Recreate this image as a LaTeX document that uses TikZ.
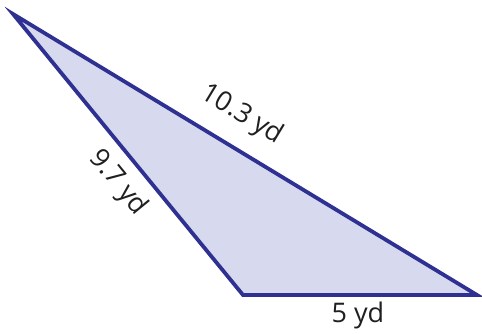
\documentclass[tikz,border=0pt]{standalone}
\usepackage{fontspec}
\setmainfont{Open Sans}
\definecolor{edgeblue}{HTML}{2E3192}
\definecolor{fillblue}{HTML}{D7DAEE}
\begin{document}
\begin{tikzpicture}[x=1pt,y=-1pt,
  side/.style={draw=edgeblue,fill=fillblue,line width=3.8pt,line join=miter},
  lbl/.style={font=\fontsize{27}{32}\selectfont,text=black!88,inner sep=0pt}]
\useasboundingbox (0,0) rectangle (482,334);
\coordinate (A) at (13,14);
\coordinate (B) at (243,295);
\coordinate (C) at (477,295);
\draw[side] (A) -- (B) -- (C) -- cycle;
\node[lbl,rotate=-31.2] (top) at (242,115) {10.3 yd};
\node[lbl,rotate=-50.7] (left) at (118,183) {9.7 yd};
\node[lbl] (bot) at (358,315) {5 yd};
\end{tikzpicture}
\end{document}
